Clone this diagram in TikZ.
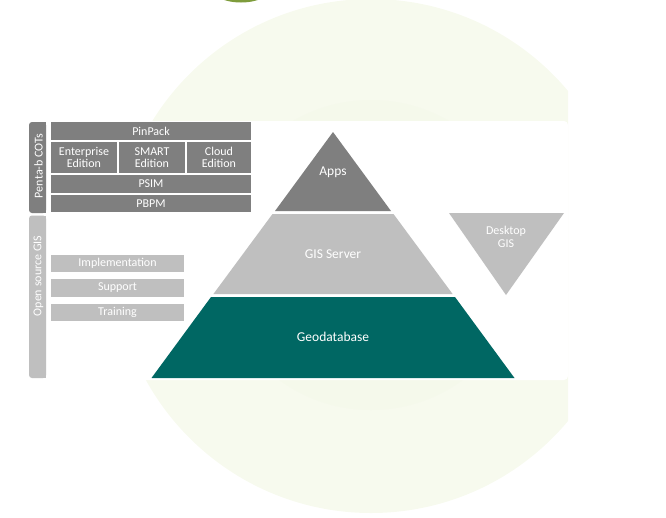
\documentclass[tikz,border=0pt]{standalone}
\usepackage{fontspec}
\setmainfont{Carlito}
\definecolor{dgray}{HTML}{7F7F7F}
\definecolor{lgray}{HTML}{BFBFBF}
\definecolor{teal}{HTML}{006763}
\definecolor{pale}{HTML}{F7FAEE}
\definecolor{paler}{HTML}{F5F9EB}
\definecolor{olive}{HTML}{7E9C3C}
\begin{document}
\begin{tikzpicture}[x=1pt,y=-1pt,
  box/.style={inner sep=0pt,text=white,font=\fontsize{12}{12.5}\selectfont,align=center},
  darkbox/.style={box,fill=dgray},
  lightbox/.style={box,fill=lgray},
  lbl/.style={text=white,inner sep=0pt,align=center}]
\useasboundingbox (0,0) rectangle (666,517);
% background circles
\begin{scope}
\clip (0,0) rectangle (568,517);
\fill[pale] (371,256) circle (257);
\fill[paler] (371,255) circle (155);
\end{scope}
\begin{scope}
\clip (0,0) rectangle (666,517);
\fill[olive] (241,-12) ellipse (30 and 14.5);
\end{scope}
% white panel
\fill[white,rounded corners=4pt] (28,121) rectangle (568,380);
% left vertical bars
\fill[dgray,rounded corners=3pt] (46,122) -- (29,122) -- (29,213) -- (46,213) -- cycle;
\fill[dgray] (38,122) rectangle (46,213);
\fill[lgray,rounded corners=3pt] (46,215.5) -- (29,215.5) -- (29,378) -- (46,378) -- cycle;
\fill[lgray] (38,215.5) rectangle (46,378);
\node[lbl,rotate=90,font=\fontsize{12}{12.5}\selectfont] (cots) at (38.5,166) {Penta-b COTs};
\node[lbl,rotate=90,font=\fontsize{12}{12.5}\selectfont] (osgis) at (38.5,276) {Open source GIS};
% top boxes
\node[darkbox,minimum width=200pt,minimum height=18pt] (pinpack) at (151,131) {PinPack};
\node[darkbox,minimum width=66pt,minimum height=31pt] (enterprise) at (84,157.5) {Enterprise\\Edition};
\node[darkbox,minimum width=66pt,minimum height=31pt] (smart) at (152,157.5) {SMART\\Edition};
\node[darkbox,minimum width=64pt,minimum height=31pt] (cloud) at (219,157.5) {Cloud\\Edition};
\node[darkbox,minimum width=200pt,minimum height=18pt] (psim) at (151,184) {PSIM};
\node[darkbox,minimum width=200pt,minimum height=17pt] (pbpm) at (151,203.5) {PBPM};
% open source boxes
\node[lightbox,minimum width=133pt,minimum height=17pt] (impl) at (117.5,263.5) {Implementation};
\node[lightbox,minimum width=133pt,minimum height=18pt] (support) at (117.5,288) {Support};
\node[lightbox,minimum width=133pt,minimum height=17pt] (training) at (117.5,312.5) {Training};
% pyramid
\fill[dgray] (333,132) -- (391,211) -- (275,211) -- cycle;
\fill[lgray] (272.5,214) -- (393.5,214) -- (452.6,294) -- (213.4,294) -- cycle;
\fill[teal] (211,297) -- (455,297) -- (514.5,378) -- (151.5,378) -- cycle;
\fill[lgray] (449,213) -- (564,213) -- (506,295) -- cycle;
\node[lbl,font=\fontsize{13.5}{14}\selectfont] (apps) at (333,172) {Apps};
\node[lbl,font=\fontsize{13.5}{14}\selectfont] (gisserver) at (333,254) {GIS Server};
\node[lbl,font=\fontsize{13.5}{14}\selectfont] (geodb) at (333,337) {Geodatabase};
\node[lbl,font=\fontsize{12}{13.5}\selectfont] (desktop) at (506,237) {Desktop\\GIS};
\end{tikzpicture}
\end{document}
